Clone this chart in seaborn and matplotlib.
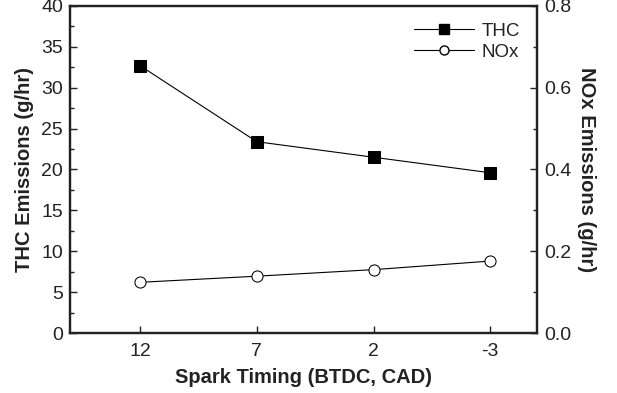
import numpy as np
import pandas as pd
import seaborn as sns
import matplotlib
matplotlib.use('Agg')
import matplotlib.pyplot as plt
from matplotlib.lines import Line2D
from matplotlib.ticker import MultipleLocator

TIMING = [12, 7, 2, -3]
THC = [32.7, 23.4, 21.5, 19.6]
NOX = [0.124, 0.139, 0.155, 0.176]
X_TICKS = [12, 7, 2, -3]

sns.set_style('white')
plt.rcParams['font.family'] = ['Liberation Sans', 'DejaVu Sans']
plt.rcParams['xtick.direction'] = 'in'
plt.rcParams['ytick.direction'] = 'in'

df = pd.DataFrame({'timing': TIMING, 'THC': THC, 'NOx': NOX})

fig = plt.figure(figsize=(6.17, 3.93), dpi=100)
ax = fig.add_axes([70 / 617, 1 - 333 / 393, 467 / 617, 327 / 393])
ax2 = ax.twinx()

sns.lineplot(data=df, x='timing', y='THC', ax=ax, color='black', lw=0.8,
             marker='s', markersize=8, markerfacecolor='black', markeredgecolor='black')
sns.lineplot(data=df, x='timing', y='NOx', ax=ax2, color='black', lw=0.8,
             marker='o', markersize=8, markerfacecolor='white', markeredgecolor='black')

ax.set_xlim(15, -5)
ax.set_xticks(X_TICKS)
ax.set_xticklabels([str(t) for t in X_TICKS])
ax.set_ylim(0, 40)
ax.yaxis.set_major_locator(MultipleLocator(5))
ax.yaxis.set_minor_locator(MultipleLocator(2.5))
ax2.set_ylim(0, 0.8)
ax2.yaxis.set_major_locator(MultipleLocator(0.2))
ax2.yaxis.set_minor_locator(MultipleLocator(0.1))
ax2.set_yticklabels(['{:.1f}'.format(v) for v in ax2.get_yticks()])

for a in (ax, ax2):
    for s in a.spines.values():
        s.set_linewidth(1.6)
        s.set_color('#222222')
    a.tick_params(which='major', length=5, width=1, labelsize=14, color='#222222',
                  labelcolor='#222222', pad=5)
    a.tick_params(which='minor', length=3, width=1, color='#222222')
ax.tick_params(axis='y', which='both', left=True, right=False)
ax.tick_params(axis='x', which='both', bottom=True, top=False)
ax.tick_params(axis='x', which='major', pad=7)
ax2.tick_params(axis='y', which='both', right=True, left=False)

ax.set_xlabel('Spark Timing (BTDC, CAD)', fontsize=14.5, fontweight='bold',
              labelpad=6, color='#222222')
ax.set_ylabel('THC Emissions (g/hr)', fontsize=14.5, fontweight='bold',
              labelpad=5, color='#222222')
ax2.set_ylabel('NOx Emissions (g/hr)', fontsize=14.5, fontweight='bold',
               rotation=270, labelpad=18, color='#222222')

handles = [
    Line2D([], [], color='black', lw=0.8, marker='s', markersize=6.5,
           markerfacecolor='black', markeredgecolor='black'),
    Line2D([], [], color='black', lw=0.8, marker='o', markersize=6.5,
           markerfacecolor='white', markeredgecolor='black'),
]
leg = ax.legend(handles, ['THC', 'NOx'], loc='upper right', frameon=False, fontsize=13.5,
                handlelength=3.2, handletextpad=0.4, borderaxespad=0.5, labelspacing=0.2)
for t in leg.get_texts():
    t.set_color('#222222')

fig.savefig('out.png', dpi=100)
